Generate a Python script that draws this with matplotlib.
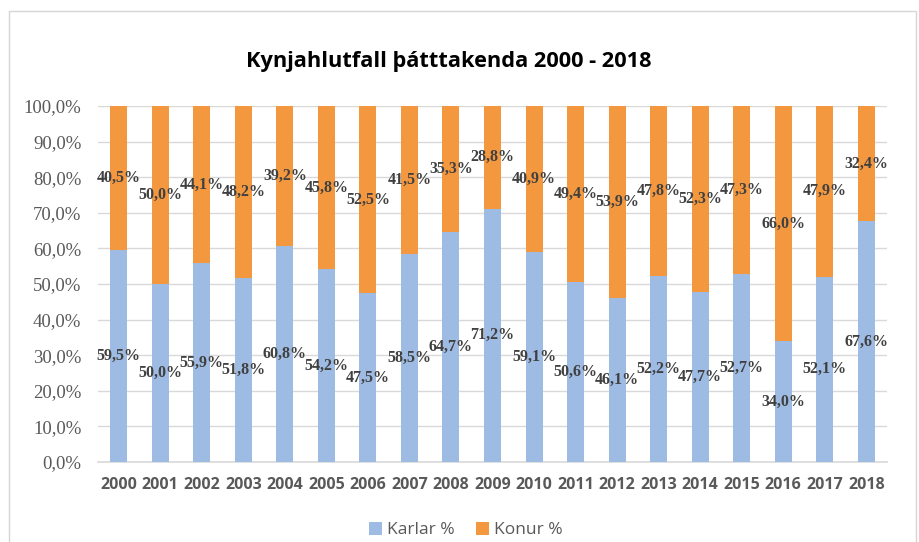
import matplotlib
matplotlib.use("Agg")
import matplotlib.pyplot as plt
from matplotlib.patches import Rectangle
import numpy as np

years = [str(y) for y in range(2000, 2019)]
karlar = [59.5, 50.0, 55.9, 51.8, 60.8, 54.2, 47.5, 58.5, 64.7, 71.2,
          59.1, 50.6, 46.1, 52.2, 47.7, 52.7, 34.0, 52.1, 67.6]
konur = [40.5, 50.0, 44.1, 48.2, 39.2, 45.8, 52.5, 41.5, 35.3, 28.8,
         40.9, 49.4, 53.9, 47.8, 52.3, 47.3, 66.0, 47.9, 32.4]
yticks = [0, 10, 20, 30, 40, 50, 60, 70, 80, 90, 100]

BLUE = "#9DBBE3"
ORANGE = "#F4983F"
GRAY = "#595959"
LABEL = "#404040"

fig = plt.figure(figsize=(9.2, 5.42), dpi=100)
fig.patch.set_facecolor("white")
fig.patches.append(Rectangle((9/920, -0.05), (916-9)/920, 1 - 11/542 + 0.05,
                             transform=fig.transFigure, fill=False,
                             edgecolor="#D9D5D2", linewidth=1.0))

ax = fig.add_axes([98/920, (542-462)/542, (887-98)/920, (462-106)/542])
x = np.arange(len(years))
w = 0.41
b1 = ax.bar(x, karlar, width=w, color=BLUE, label="Karlar %", zorder=3)
b2 = ax.bar(x, konur, width=w, bottom=karlar, color=ORANGE, label="Konur %", zorder=3)

def fmt(v):
    return f"{v:.1f}".replace(".", ",") + "%"

for i in range(len(years)):
    ax.text(x[i], karlar[i] / 2, fmt(karlar[i]), ha="center", va="center",
            family="Liberation Serif", fontweight="bold", fontsize=11.5,
            color=LABEL, zorder=5)
    ax.text(x[i], karlar[i] + konur[i] / 2, fmt(konur[i]), ha="center", va="center",
            family="Liberation Serif", fontweight="bold", fontsize=11.5,
            color=LABEL, zorder=5)

ax.set_xlim(-0.5, len(years) - 0.5)
ax.set_ylim(0, 100)
ax.set_yticks(yticks)
ax.set_yticklabels([f"{t:.1f}".replace(".", ",") + "%" for t in yticks],
                   family="Liberation Serif", fontsize=13.5, color=GRAY)
ax.set_xticks(x)
ax.set_xticklabels(years, family="Open Sans", fontweight="bold", fontsize=11.5, color=GRAY)
ax.tick_params(axis="both", length=0)
ax.tick_params(axis="y", pad=12)
ax.tick_params(axis="x", pad=11)
ax.grid(axis="y", color="#D9D9D9", linewidth=1, zorder=0)
for s in ["top", "right", "left"]:
    ax.spines[s].set_visible(False)
ax.spines["bottom"].set_color("#D9D9D9")
ax.spines["bottom"].set_linewidth(1.2)

fig.text(448.5/920, 1 - 62/542, "Kynjahlutfall þátttakenda 2000 - 2018",
         ha="center", va="center", family="Open Sans", fontweight="bold",
         fontsize=15.7, color="#000000")

leg = fig.legend(handles=[b1, b2], loc="center", bbox_to_anchor=(466/920, 1 - 530/542),
                 ncol=2, frameon=False, prop={"family": "Open Sans", "size": 12.5},
                 handlelength=0.75, handleheight=0.75, handletextpad=0.3, columnspacing=1.2)
for t in leg.get_texts():
    t.set_color(GRAY)

fig.savefig("out.png", dpi=100)
